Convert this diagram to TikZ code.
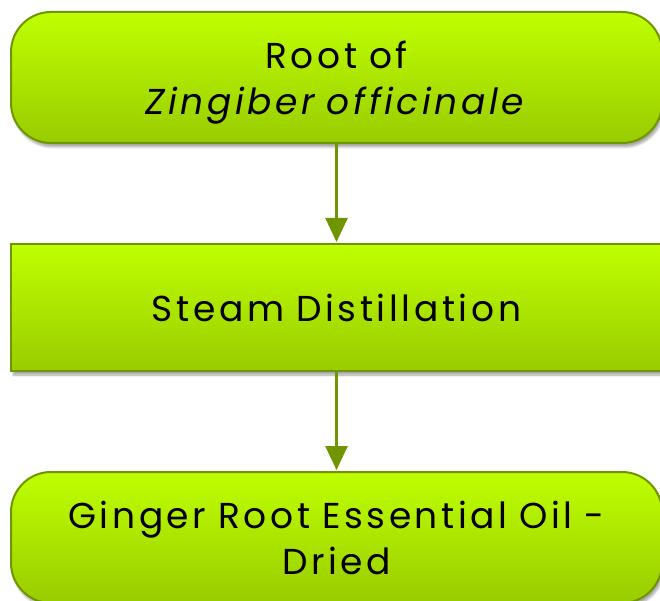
\documentclass[tikz,border=0pt]{standalone}
\usepackage{fontspec}
\setmainfont[LetterSpace=10]{Poppins}
\usepackage{tikz}
\usetikzlibrary{positioning}
\usetikzlibrary{arrows.meta}
\usetikzlibrary{shadows.blur}
\definecolor{limetop}{HTML}{BFFF00}
\definecolor{limebottom}{HTML}{99CC00}
\definecolor{olive}{HTML}{6F9600}

\begin{document}
\begin{tikzpicture}[
            x = 1pt, y = 1pt,
            > = {Triangle[width=22pt,length=24pt]}, % arrow head style
            node distance = 99pt, % distance between nodes
            line width = 2pt
        ]

        \tikzstyle{every node}=[
            font = \fontsize{36}{46}\selectfont,
            text width = 640pt,
            align = center,
            minimum width = 651pt,
            inner sep = 0pt
        ]
        \tikzstyle{stepbox}=[
            draw = olive,
            top color = limetop,
            bottom color = limebottom,
            blur shadow = {shadow xshift=2pt, shadow yshift=-4pt, shadow blur steps=6, shadow opacity=35}
        ]
        \tikzstyle{roundbox}=[stepbox, rounded corners = 40pt, minimum height = 131pt]
        \tikzstyle{squarebox}=[stepbox, minimum height = 127pt]
        \tikzstyle{flow}=[->, color = olive, line width = 2.6pt, shorten > = 1pt]

        \useasboundingbox (0,0) rectangle (660,-601);

        % process steps
        \node[roundbox] (root) at (336.5,-77.5) {\rule{0pt}{37pt}Root of\\\textit{Zingiber officinale}};
        \node[squarebox] (steam) [below = of root] {Steam Distillation};
        \node[roundbox] (oil) [below = of steam] {Ginger Root Essential Oil -\\Dried};

        % connectors
        \draw[flow] (root) -- (steam);
        \draw[flow] (steam) -- (oil);

\end{tikzpicture}
\end{document}
